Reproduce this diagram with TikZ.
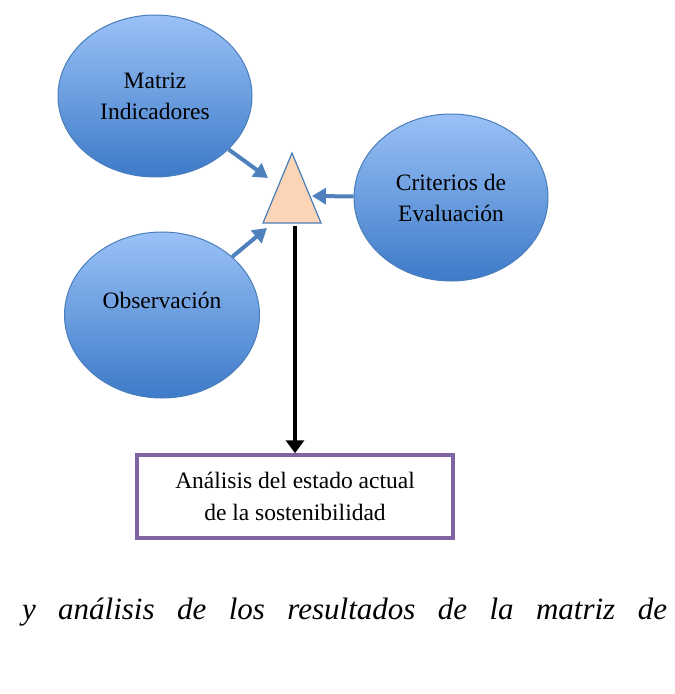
\documentclass[tikz,border=0pt]{standalone}
\usepackage{fontspec}
\setmainfont{Liberation Serif}
\usepackage{tikz}
\usetikzlibrary{arrows.meta}
\usetikzlibrary{shapes.geometric}

\definecolor{elltop}{HTML}{9AC1F7}
\definecolor{ellbot}{HTML}{3D7AC8}
\definecolor{ellline}{HTML}{4A7EBB}
\definecolor{arrblue}{HTML}{4F81BD}
\definecolor{boxline}{HTML}{8064A2}
\definecolor{trifill}{HTML}{FBD5B5}

\begin{document}
\begin{tikzpicture}[x=1pt, y=-1pt,
	bubble/.style={ellipse, draw=ellline, line width=1pt, top color=elltop, bottom color=ellbot,
		minimum width=194pt, minimum height=162pt, inner sep=0pt, align=center,
		font=\fontsize{23.5}{31}\selectfont},
	resultbox/.style={draw=boxline, line width=3.5pt, fill=white, minimum width=316pt,
		minimum height=83pt, align=center, font=\fontsize{23.5}{32}\selectfont},
	bluearrow/.style={color=arrblue, line width=4pt, -{Triangle[length=14pt,width=16pt]}},
	blackarrow/.style={color=black, line width=4pt, -{Triangle[length=13pt,width=18pt]}}]
\useasboundingbox (0,0) rectangle (675,694);
\fill[white] (0,0) rectangle (675,694);

\node[bubble] (mat) at (155,96) {Matriz\\Indicadores};
\node[bubble, minimum height=167pt] (crit) at (451,197.5) {Criterios de\\Evaluaci\'on};
\node[bubble, minimum width=195pt, minimum height=166pt, text depth=30pt] (obs) at (162,315) {Observaci\'on};

\coordinate (apex) at (292,153);
\coordinate (tl) at (263,223);
\coordinate (tr) at (321,223);
\draw[draw=ellline, line width=1.2pt, fill=trifill, line join=miter] (apex) -- (tr) -- (tl) -- cycle;
\coordinate (inA) at (268,178);
\coordinate (inB) at (267,228);
\coordinate (inC) at (312,196);
\coordinate (base) at (295,226);

\node[resultbox] (res) at (295,496.5) {An\'alisis del estado actual\\de la sostenibilidad};
\node[font=\fontsize{31}{36}\selectfont\itshape, inner sep=0pt] (cap) at (344.5,612)
	{\makebox[645pt][s]{y an\'alisis de los resultados de la matriz de}};

\path[bluearrow]
(mat) edge (inA)
(obs) edge (inB)
(crit) edge (inC)
;
\path[blackarrow]
(base) edge (res)
;
\end{tikzpicture}
\end{document}
